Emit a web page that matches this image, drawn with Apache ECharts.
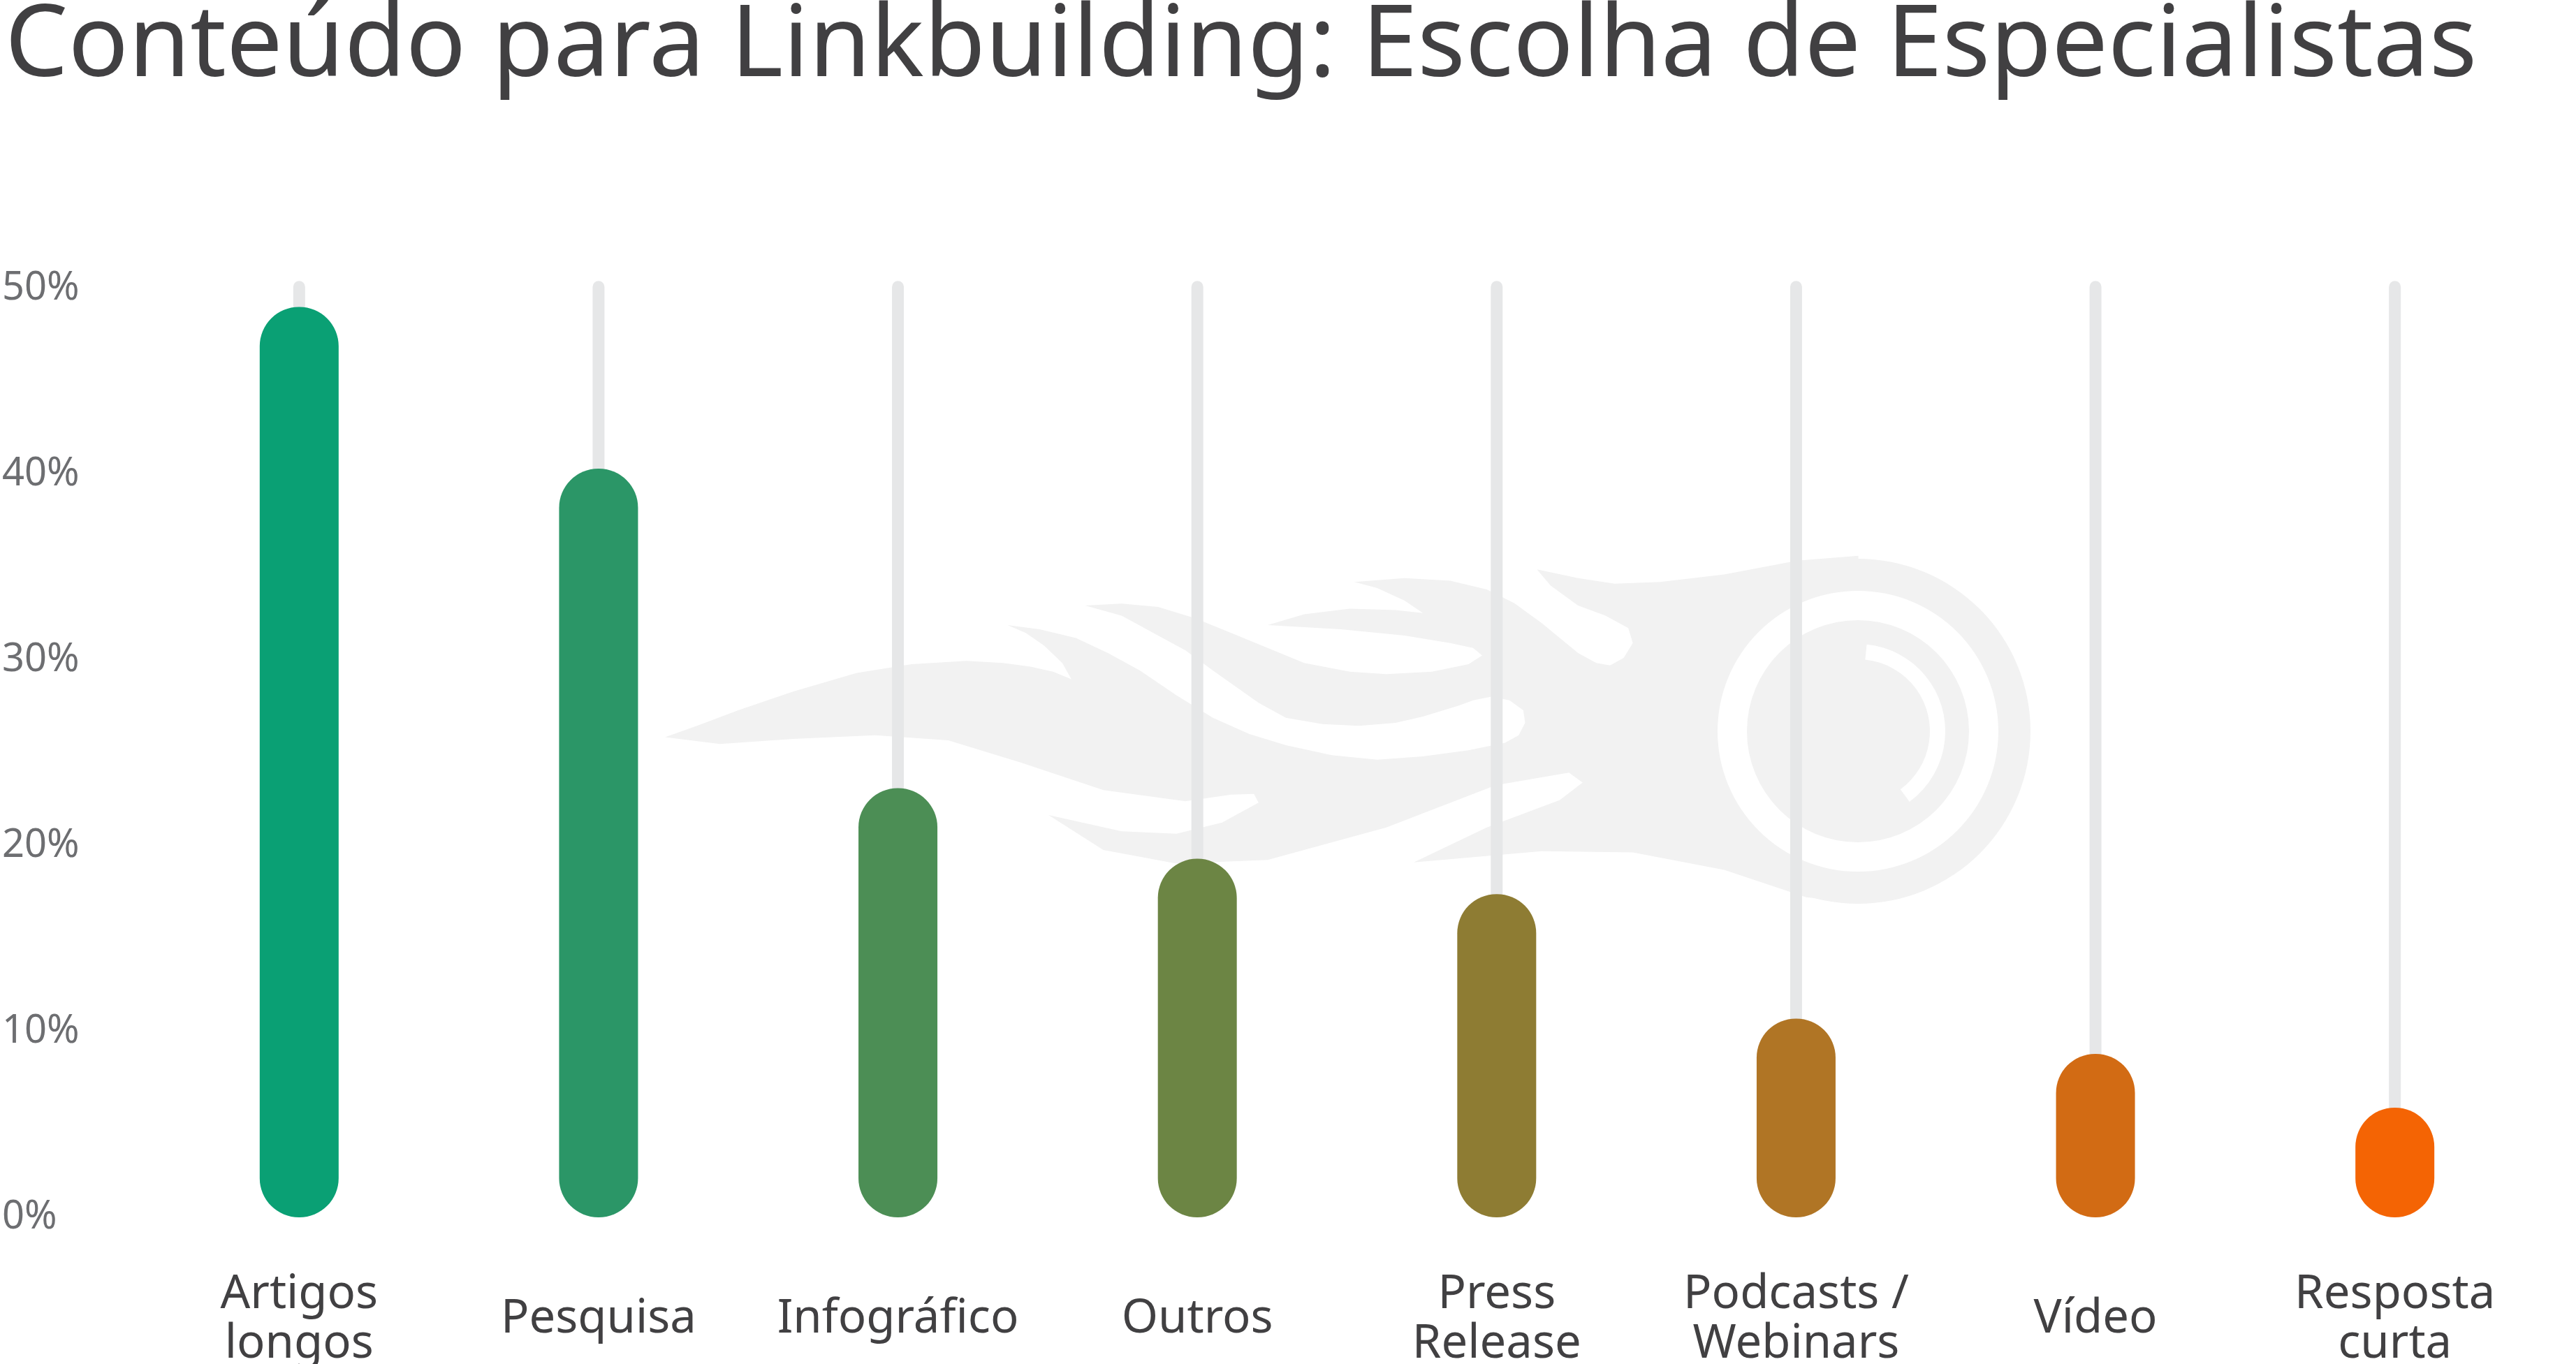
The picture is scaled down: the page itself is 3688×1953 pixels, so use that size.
<!DOCTYPE html>
<html>
<head>
<meta charset="utf-8">
<title>Conteúdo para Linkbuilding</title>
<script src="https://cdn.jsdelivr.net/npm/echarts@6/dist/echarts.min.js"></script>
<style>
  html, body { margin: 0; padding: 0; background: #fff; }
  #chart { width: 3688px; height: 1953px; }
</style>
</head>
<body>
<div id="chart"></div>
<script>
var categories = ['Artigos\nlongos', 'Pesquisa', 'Infográfico', 'Outros', 'Press\nRelease', 'Podcasts /\nWebinars', 'Vídeo', 'Resposta\ncurta'];
var shares = [49, 40.3, 23.1, 19.3, 17.4, 10.7, 8.8, 5.9];
var barColors = ['#0aa074', '#2b9667', '#4c8e55', '#6c8544', '#8e7c33', '#b07525', '#d26b14', '#f46404'];
var trackTop = [50.4, 50.4, 50.4, 50.4, 50.4, 50.4, 50.4, 50.4];

var myChart = echarts.init(document.getElementById('chart'));

// watermark flame outline (crop coords, scaled into place)
var flame = [
    [40,828],[80,775],[120,720],[180,645],[250,570],[310,535],[370,522],[410,530],[440,545],[465,565],[485,595],
    [475,530],[455,460],[435,410],[415,378],[450,395],[490,430],[525,490],[560,560],[600,660],[640,750],[680,815],
    [720,860],[770,900],[820,918],[870,905],[920,880],[960,850],[975,820],[982,770],[980,720],[965,680],[945,665],
    [925,680],[910,700],[870,745],[840,770],[800,782],[760,775],[720,750],[690,690],[640,560],[610,480],[580,420],
    [540,340],[500,300],[540,292],[580,305],[620,350],[660,410],[700,470],[740,530],[790,565],[830,575],[880,565],
    [920,535],[935,500],[925,470],[900,450],[850,420],[780,395],[700,378],[740,335],[790,312],[840,318],[870,330],
    [850,280],[820,230],[795,205],[850,190],[900,200],[940,235],[970,290],[1000,370],[1040,490],[1060,530],[1075,540],
    [1090,510],[1100,450],[1095,390],[1070,340],[1040,300],[1010,220],[995,155],[1040,190],[1080,212],[1130,205],
    [1200,175],[1280,120],[1347,100],[1347,804],[1347,1490],[1290,1470],[1200,1360],[1100,1290],[1000,1285],
    [860,1330],[940,1190],[1020,1080],[1045,1010],[1030,970],[950,1020],[830,1190],[700,1320],[600,1335],[520,1280],
    [460,1140],[540,1205],[600,1215],[650,1170],[690,1090],[685,1055],[660,1058],[610,1085],[520,1040],[430,930],
    [350,840],[270,820],[180,835],[100,855]
];

var option = {
    backgroundColor: '#ffffff',
    title: {
        text: 'Conteúdo para Linkbuilding: Escolha de Especialistas',
        left: 2,
        top: -8,
        textStyle: {
            color: '#414042',
            fontFamily: 'Noto Sans',
            fontWeight: 'normal',
            fontSize: 143
        }
    },
    graphic: [
        {
            type: 'polygon',
            x: 900, y: 760, scaleX: 1.307, scaleY: 0.357,
            shape: { points: flame },
            style: { fill: '#f2f2f2' },
            silent: true, z: 0
        },
        {
            type: 'circle',
            shape: { cx: 2660, cy: 1047, r: 247 },
            style: { fill: '#f2f2f2' },
            silent: true, z: 0
        },
        {
            type: 'ring',
            shape: { cx: 2660, cy: 1047, r: 201, r0: 159 },
            style: { fill: '#ffffff' },
            silent: true, z: 0
        },
        {
            type: 'sector',
            shape: { cx: 2660, cy: 1047, r0: 103, r: 125, startAngle: -1.47, endAngle: 0.94, clockwise: true },
            style: { fill: '#ffffff' },
            silent: true, z: 0
        }
    ],
    grid: {
        left: 214,
        right: 45,
        top: 413,
        bottom: 210,
        outerBoundsMode: 'none'
    },
    xAxis: [
        {
            type: 'category',
            data: categories,
            axisLine: { show: false },
            axisTick: { show: false },
            axisLabel: {
                color: '#414042',
                fontFamily: 'Noto Sans',
                fontSize: 67,
                lineHeight: 71,
                verticalAlign: 'middle',
                margin: 146,
                interval: 0
            }
        },
        {
            type: 'category',
            data: categories,
            show: false
        }
    ],
    yAxis: {
        type: 'value',
        min: 0,
        max: 50,
        interval: 10,
        axisLine: { show: false },
        axisTick: { show: false },
        splitLine: { show: false },
        axisLabel: {
            formatter: '{value}%',
            color: '#6d6e71',
            fontFamily: 'Noto Sans',
            fontSize: 56,
            align: 'left',
            padding: [16, 0, 0, 0],
            margin: 211
        }
    },
    series: [
        {
            name: 'track',
            type: 'bar',
            xAxisIndex: 1,
            data: trackTop,
            barWidth: 17,
            clip: false,
            silent: true,
            itemStyle: { color: '#e6e7e8', borderRadius: 8.5 },
            z: 2
        },
        {
            name: 'share',
            type: 'bar',
            xAxisIndex: 0,
            data: shares.map(function (v, i) {
                return { value: v, itemStyle: { color: barColors[i] } };
            }),
            barWidth: 113,
            itemStyle: { borderRadius: 56 },
            z: 3
        }
    ]
};
myChart.setOption(option);
</script>
</body>
</html>
